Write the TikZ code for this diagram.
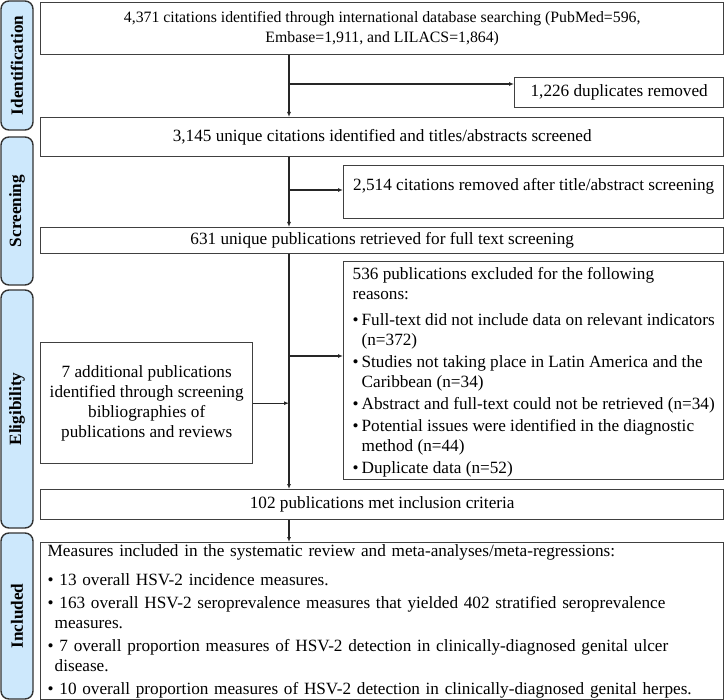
\documentclass[tikz,border=0pt]{standalone}
\usepackage{fontspec}
\setmainfont{Liberation Serif}
\usetikzlibrary{arrows.meta}
\definecolor{phasefill}{RGB}{205,232,252}
\definecolor{linegray}{RGB}{64,64,64}
\newcommand{\bul}{\makebox[9pt][l]{\textbullet}}
\newcommand{\ind}{\makebox[9pt]{}}

\begin{document}
\begin{tikzpicture}[x=1pt,y=-1pt,
  txt/.style={font=\fontsize{17.2}{20}\selectfont},
  box/.style={txt,draw=linegray,line width=1.4pt,anchor=north west,inner sep=0pt},
  phase/.style={draw=black!80,line width=1.4pt,fill=phasefill,rounded corners=8pt,
    rotate=90,minimum height=32pt,font=\fontsize{17.2}{20}\selectfont\bfseries},
  arr/.style={draw=black!85,line width=1.2pt,-{Latex[length=5pt,width=4pt]}}]
\useasboundingbox (0,0) rectangle (725,700);

\node[phase,minimum width=129pt] (pid) at (17,65.5) {Identification};
\node[phase,minimum width=148pt] (psc) at (17,211) {Screening};
\node[phase,minimum width=238pt] (pel) at (17,409) {Eligibility};
\node[phase,minimum width=166pt] (pin) at (17,616) {Included};

\coordinate (spine) at (289,0);
\coordinate (b1) at (289,84);
\coordinate (b2) at (289,190);
\coordinate (b3) at (289,356);

\node[box,minimum width=683pt,minimum height=52pt,align=center,
  font=\fontsize{15.8}{20}\selectfont] (ident) at (40,2)
  {4,371 citations identified through international database searching (PubMed=596,\\Embase=1,911, and LILACS=1,864)};
\node[box,minimum width=209pt,minimum height=30pt] (dup) at (514,77) {1,226 duplicates removed};
\node[box,minimum width=683pt,minimum height=39pt] (uniq) at (40,117)
  {3,145 unique citations identified and titles/abstracts screened};
\node[box,minimum width=380pt,minimum height=53pt,align=left,text depth=15pt] (scrn) at (343,165)
  {2,514 citations removed after title/abstract screening};
\node[box,minimum width=683pt,minimum height=26pt] (full) at (40,227)
  {631 unique publications retrieved for full text screening};
\node[box,minimum width=380pt,minimum height=218pt,align=left,text depth=0pt] (excl) at (343,261)
  {536 publications excluded for the following\\
   reasons:\\[6pt]
   \bul Full-text did not include data on relevant indicators\\
   \ind(n=372)\\[2pt]
   \bul Studies not taking place in Latin America and the\\
   \ind Caribbean (n=34)\\[2pt]
   \bul Abstract and full-text could not be retrieved (n=34)\\[2pt]
   \bul Potential issues were identified in the diagnostic\\
   \ind method (n=44)\\[2pt]
   \bul Duplicate data (n=52)};
\node[box,minimum width=212pt,minimum height=121pt,align=center] (addl) at (40,342)
  {7 additional publications\\identified through screening\\bibliographies of\\publications and reviews};
\node[box,minimum width=683pt,minimum height=30pt] (incl) at (40,489)
  {102 publications met inclusion criteria};
\node[box,minimum width=683pt,minimum height=157pt,text width=669pt,inner xsep=7pt,
  align=left] (meas) at (40,542)
  {Measures included in the systematic review and meta-analyses/meta-regressions:\\[9pt]
   \textbullet{} 13 overall HSV-2 incidence measures.\\[3pt]
   \textbullet{} 163 overall HSV-2 seroprevalence measures that yielded 402 stratified seroprevalence\\
   \hspace*{7pt}measures.\\[3pt]
   \textbullet{} 7 overall proportion measures of HSV-2 detection in clinically-diagnosed genital ulcer\\
   \hspace*{7pt}disease.\\[3pt]
   \textbullet{} 10 overall proportion measures of HSV-2 detection in clinically-diagnosed genital herpes.};

\draw[arr] (ident.south -| spine) -- (uniq.north -| spine);
\draw[arr] (b1) -- (dup.west |- b1);
\draw[arr] (uniq.south -| spine) -- (full.north -| spine);
\draw[arr] (b2) -- (scrn.west |- b2);
\draw[arr] (full.south -| spine) -- (incl.north -| spine);
\draw[arr] (b3) -- (excl.west |- b3);
\draw[arr] (addl.east) -- (addl.east -| spine);
\draw[arr] (incl.south -| spine) -- (meas.north -| spine);
\end{tikzpicture}
\end{document}
